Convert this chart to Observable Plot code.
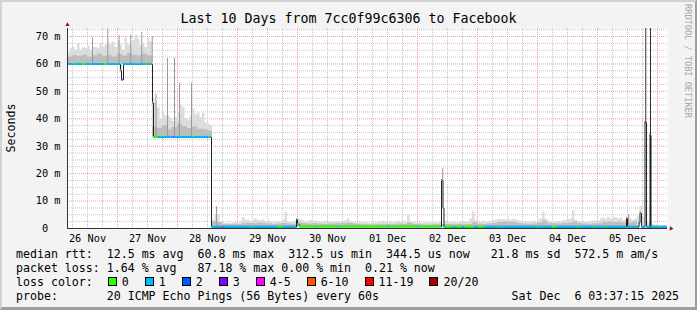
<!DOCTYPE html>
<html>
<head>
<meta charset="utf-8">
<script src="https://cdn.jsdelivr.net/npm/d3@7"></script>
<script src="https://cdn.jsdelivr.net/npm/@observablehq/plot@0.6"></script>
<style>
html,body{margin:0;padding:0;background:#fff}
#wrap{position:relative;width:697px;height:310px;background:#f3f3f3;overflow:hidden;font-family:"DejaVu Sans Mono",monospace;color:#000}
#edge{position:absolute;left:0;top:0;width:697px;height:310px;box-sizing:border-box;border-top:2px solid #d2d2d2;border-left:2px solid #d2d2d2;border-right:2px solid #9e9e9e;border-bottom:3px solid #9e9e9e;pointer-events:none}
#chart{position:absolute;left:0;top:0}
#title{position:absolute;left:0;top:11px;width:697px;text-align:center;font-size:13.3px;line-height:16px;white-space:pre}
#ylab{position:absolute;left:-39px;top:121px;width:100px;height:14px;line-height:14px;font-size:11.6px;text-align:center;transform:rotate(-90deg);white-space:pre}
#wm{position:absolute;left:623px;top:55px;width:130px;height:12px;line-height:12px;font-size:8.6px;text-align:center;color:#a8a8a8;transform:rotate(90deg);white-space:pre}
#legend{position:absolute;left:16px;top:247px;font-size:11.6px;line-height:14px;white-space:pre}
#legend .it{margin-right:15px}
#legend .it i{display:inline-block;width:7px;height:7px;border:1px solid #000;margin:0 5px 0 1px;vertical-align:baseline}
</style>
</head>
<body>
<div id="wrap">
  <div id="chart"></div>
  <div id="title"></div>
  <div id="ylab"></div>
  <div id="wm"></div>
  <div id="legend"></div>
  <div id="edge"></div>
</div>
<script>
// ---------------- data ----------------
const titleText = "Last 10 Days from 7cc0f99c6306 to Facebook";
const yLabel = "Seconds";
const watermark = "RRDTOOL / TOBI OETIKER";
const dayLabels = ["26 Nov","27 Nov","28 Nov","29 Nov","30 Nov","01 Dec","02 Dec","03 Dec","04 Dec","05 Dec"];
const yTicks = [0,10,20,30,40,50,60,70];
const yTickLabels = ["0","10 m","20 m","30 m","40 m","50 m","60 m","70 m"];

// median rtt (ms) runs: [hour from start, value]
const medianRuns = [
  [0,59.8],[21.2,57.5],[21.6,54.2],[22.4,59.8],[34,45.7],[34.4,33.2],[57.6,0.5],
  [91.6,3.2],[92.0,1.4],[92.8,0.6],[149.6,17.5],[150.2,7.4],[150.6,0.5],
  [223.6,3.6],[224,0.5],[228.6,2.0],[229,5.5],[229.6,0.5],[231,38.6],[231.6,0.5],
  [233,34],[233.4,0.5],[240,0.5]
];
// lost pings (of 20) runs: [hour from start, count]
const lossRuns = [
  [0,1],[2.6,0],[3.2,1],[5.9,0],[7.2,1],[9.2,0],[9.6,1],[14.8,0],[16,1],[21.6,3],[22,1],
  [27.9,0],[28.3,1],[31.2,0],[32,1],
  [34.4,0],[36.4,1],[37.5,0],[37.9,1],[42.4,4],[42.8,1],[50,0],[50.4,1],[56.4,0],[56.8,1],
  [62.2,4],[62.6,1],[74,0],[74.4,1],[84.4,0],[86,1],[92.4,0],[99.2,1],[99.6,0],[108,1],[108.4,0],
  [128,1],[128.4,0],[140,1],[140.4,0],
  [149.6,1],[150.2,0],[150.6,1],[151.2,0],[154.4,1],[155.2,0],[158,1],[159,0],[163,1],[164.4,0],[166.8,1],
  [172.4,0],[172.8,1],[188,0],[188.4,1],[194,0],[195.6,1],[204,0],[204.4,1],[210.4,0],[210.8,1],
  [215.2,0],[215.6,1],[223.6,7],[224,1],[229,7],[229.6,1],[231,15],[231.6,1],[233,15],[233.4,1]
];
// smoke: top of ping spread per hour (ms)
const smokeHi = [
  64,65.5,66,65,67.5,65,66,65.5,66.5,65,66,66,65.5,67.5,66,67,68,67,68,66,68.5,67,65,69.5,
  67,66.5,68.5,70.5,69,66.5,67,66,69.5,68,47,46,44,40,42,41,41,40,39,40.5,42,45,44,40,
  39.5,41,43.5,41.5,42,40.5,42,38.5,38,37.5,3,5,5,2.5,2,1.8,2,1.7,2,2.2,1.8,2.5,4,3,
  3,2.5,3,3.5,3,2.8,3.2,2.5,3,2.2,2,2.5,2.3,2.5,3,5.9,2.5,2,2.2,2.5,3.5,3,2.8,2.5,
  2.6,3,2.4,2.8,2.5,2.2,2.4,2.6,2.2,2.5,2.3,2.6,2.5,2.2,2.6,2.8,3.6,2.4,2.2,2,2.1,2.4,2,2.2,
  2,1.8,2.2,2,2.4,2.1,2.6,2.2,2,2.5,2.1,2.4,2.6,2.2,2.5,2.3,4.7,2.4,2.1,2,2.2,2,1.9,2.1,
  1.9,2,1.8,2.2,2,2.5,2.5,2.5,2.2,2,2.3,2.1,2,2.4,2.2,2.5,2.3,3.5,6,3,2.4,2.2,2.6,2.3,
  2.4,2.6,2.8,3,3.3,3.3,3.2,3,3.4,3,3.3,3.1,2.8,2.6,2.4,2.2,2.5,2.3,2.6,2.4,3,3.5,6,3.5,
  3,2.5,2.2,2.4,2.6,2.4,2.8,3,3.2,3.5,6.5,3,2.6,2.4,2.2,2.4,2.2,2.5,2.6,2.8,2.6,3.5,3.8,3.3,
  4,3.5,3.8,4,3.5,3.8,3,3,4.5,3.5,3,3.5,4.5,8,4,3,2,3,1.5,1,0.9,0.9,0.9,0.9
];
// smoke: dense part of ping spread per 2 hours (ms)
const smokeMid = [
  62.5,63,62.8,63.2,62.5,63,63.5,62.8,63,62.6,63.4,62.9,63.8,63.2,63,63.5,63,
  37,36.5,37.5,36,36.8,38,37.2,36.5,37,36.2,36,35.5,
  2.5,2.2,1.5,1.4,1.5,1.4,1.8,
  1.8,1.7,2.0,1.8,1.6,1.5,1.6,1.8,1.6,1.5,2.0,1.8,
  1.6,1.7,1.6,1.5,1.6,1.6,1.7,1.8,1.9,1.6,1.5,1.4,
  1.4,1.3,1.5,1.4,1.5,1.4,1.6,1.5,1.9,1.5,1.4,1.3,
  1.3,1.4,1.4,1.5,1.5,1.4,1.5,1.4,1.5,2.2,1.6,1.5,
  1.6,1.8,2.2,2.4,2.3,2.2,1.8,1.6,1.5,1.6,2.0,2.6,
  1.8,1.7,1.6,1.8,2.0,2.4,1.8,1.6,1.5,1.6,1.7,2.2,
  2.4,2.2,2.3,2.0,2.0,2.4,2.5,2.2,1.0,0.9,0.8,0.8
];
// single slow pings standing out of the smoke
const outlierPings = [
  {h:10.0,lo:60,hi:69.5},{h:16.1,lo:60,hi:72.8},{h:20.6,lo:60,hi:70.3},{h:25.3,lo:60,hi:70.5},
  {h:29.7,lo:60,hi:71.5},{h:33.9,lo:60,hi:70},
  {h:35.4,lo:33.2,hi:49},{h:40.0,lo:33.2,hi:62},{h:42.8,lo:33.2,hi:62},{h:44.8,lo:33.2,hi:53},{h:49.6,lo:33.2,hi:53},
  {h:59.6,lo:0.5,hi:8},{h:150.1,lo:17.5,hi:21.8},{h:224.4,lo:0.5,hi:5}
];
const burstPings = [ {h:231.3,lo:38.6,hi:80}, {h:233.2,lo:0,hi:80} ];

const lossLabels = ["0","1","2","3","4-5","6-10","11-19","20/20"];
const lossColors = ["#26ff00","#00b8ff","#0059ff","#7e00ff","#ff00ff","#ff5500","#ff0000","#a10000"];
const rttStats = ["12.5 ms avg","60.8 ms max","312.5 us min","344.5 us now","21.8 ms sd","572.5 m am/s"];
const lossStats = ["1.64 % avg","87.18 % max","0.00 % min","0.21 % now"];
const probeText = "20 ICMP Echo Pings (56 Bytes) every 60s";
const stampText = "Sat Dec  6 03:37:15 2025";

// ---------------- helpers ----------------
const T0 = Date.UTC(2025, 10, 26, 4, 0, 0);
const at = h => new Date(T0 + h * 3600e3);
const runAt = (runs, h) => { let v = runs[0][1]; for (const [s, m] of runs) { if (s <= h) v = m; else break; } return v; };
const bucket = c => c <= 3 ? c : c <= 5 ? 4 : c <= 10 ? 5 : c <= 19 ? 6 : 7;

const smokeA = smokeHi.map((hi, h) => { const lo = runAt(medianRuns, h + 0.5); return {t: at(h), lo, hi: Math.max(hi, lo)}; });
smokeA.push({...smokeA[smokeA.length - 1], t: at(240)});
const smokeB = smokeMid.map((mid, b) => { const lo = runAt(medianRuns, 2 * b + 1); return {t: at(2 * b), lo, hi: Math.max(mid, lo)}; });
smokeB.push({...smokeB[smokeB.length - 1], t: at(240)});

const medPts = medianRuns.map(([s, m]) => ({t: at(s), m}));
const breaks = Array.from(new Set([...medianRuns.map(r => r[0]), ...lossRuns.map(r => r[0]), 240])).sort((a, b) => a - b);
const bands = [];
for (let i = 0; i < breaks.length - 1; i++) {
  const a = breaks[i], b = breaks[i + 1];
  const m = runAt(medianRuns, a);
  bands.push({a: at(a), b: at(b), lo: m - 0.36, hi: m + 0.36, c: lossColors[bucket(runAt(lossRuns, a))]});
}

const noonDates = dayLabels.map((_, i) => at(8 + 24 * i));
const labelByTime = new Map(noonDates.map((d, i) => [+d, dayLabels[i]]));
const majorX = d3.range(10).map(i => at(20 + 24 * i));
const minorX = d3.range(2, 240, 6).filter(h => (h - 20) % 24 !== 0).map(at);
const majorY = yTicks.filter(v => v > 0);
const minorY = d3.range(2.5, 73, 2.5).filter(v => v % 10 !== 0);
const yLabelByVal = new Map(yTicks.map((v, i) => [v, yTickLabels[i].length < 4 ? yTickLabels[i] + "\u00a0\u00a0" : yTickLabels[i]]));

// ---------------- chart ----------------
const chart = Plot.plot({
  width: 697, height: 250,
  marginLeft: 67, marginRight: 30, marginTop: 28, marginBottom: 22,
  x: {type: "utc", domain: [at(0), at(240)], axis: null, label: null},
  y: {domain: [0, 72.92], axis: null, label: null},
  color: {type: "identity"},
  style: {background: "none", fontFamily: "DejaVu Sans Mono", fontSize: "10.3px", color: "#000", overflow: "visible"},
  marks: [
    Plot.frame({fill: "#fff", stroke: "none"}),
    Plot.ruleX(minorX, {stroke: "#c6c6c6", strokeDasharray: "1,1"}),
    Plot.ruleY(minorY, {stroke: "#c6c6c6", strokeDasharray: "1,1"}),
    Plot.ruleX(majorX, {stroke: "#f09a9a", strokeDasharray: "1,1"}),
    Plot.ruleY(majorY, {stroke: "#f09a9a", strokeDasharray: "1,1"}),
    Plot.areaY(smokeA, {x: "t", y1: "lo", y2: "hi", curve: "step-after", fill: "#dcdcdc"}),
    Plot.areaY(smokeB, {x: "t", y1: "lo", y2: "hi", curve: "step-after", fill: "#bdbdbd"}),
    Plot.ruleX(outlierPings, {x: d => at(d.h), y1: "lo", y2: "hi", stroke: "#999", clip: true}),
    Plot.ruleX(burstPings, {x: d => at(d.h), y1: "lo", y2: "hi", stroke: "#333", clip: true}),
    Plot.line(medPts, {x: "t", y: "m", curve: "step-after", stroke: "#202020", strokeWidth: 1, clip: true}),
    Plot.rect(bands, {x1: "a", x2: "b", y1: "lo", y2: "hi", fill: "c"}),
    Plot.ruleX([at(0)], {stroke: "#333"}),
    Plot.ruleY([0], {stroke: "#333"}),
    Plot.dot([0], {frameAnchor: "top-left", dy: -3.8, symbol: "triangle", r: 1.6, fill: "#901515", stroke: "none"}),
    Plot.dot([0], {frameAnchor: "bottom-right", dx: 3.5, symbol: "triangle", r: 1.6, rotate: 90, fill: "#901515", stroke: "none"}),
    Plot.axisX(noonDates, {tickSize: 0, tickPadding: 6, label: null, tickFormat: d => labelByTime.get(+d)}),
    Plot.axisY(yTicks, {tickSize: 0, tickPadding: 7, label: null, tickFormat: v => yLabelByVal.get(v)})
  ]
});
document.getElementById("chart").appendChild(chart);

// ---------------- texts ----------------
document.getElementById("title").textContent = titleText;
document.getElementById("ylab").textContent = yLabel;
document.getElementById("wm").textContent = watermark;

const leg = document.getElementById("legend");
const l1 = document.createElement("div");
l1.textContent = "median rtt:  " + rttStats[0] + "  " + rttStats[1] + "  " + rttStats[2] + "  " + rttStats[3] + "   " + rttStats[4] + "  " + rttStats[5];
const l2 = document.createElement("div");
l2.textContent = "packet loss: " + lossStats[0] + "   " + lossStats[1] + " " + lossStats[2] + "  " + lossStats[3];
const l3 = document.createElement("div");
l3.appendChild(document.createTextNode("loss color:  "));
lossLabels.forEach((lab, i) => {
  const s = document.createElement("span"); s.className = "it";
  const b = document.createElement("i"); b.style.background = lossColors[i];
  s.appendChild(b); s.appendChild(document.createTextNode(lab));
  l3.appendChild(s);
});
const l4 = document.createElement("div");
l4.textContent = "probe:       " + probeText + " ".repeat(71 - 13 - probeText.length) + stampText;
[l1, l2, l3, l4].forEach(d => leg.appendChild(d));
</script>
</body>
</html>
